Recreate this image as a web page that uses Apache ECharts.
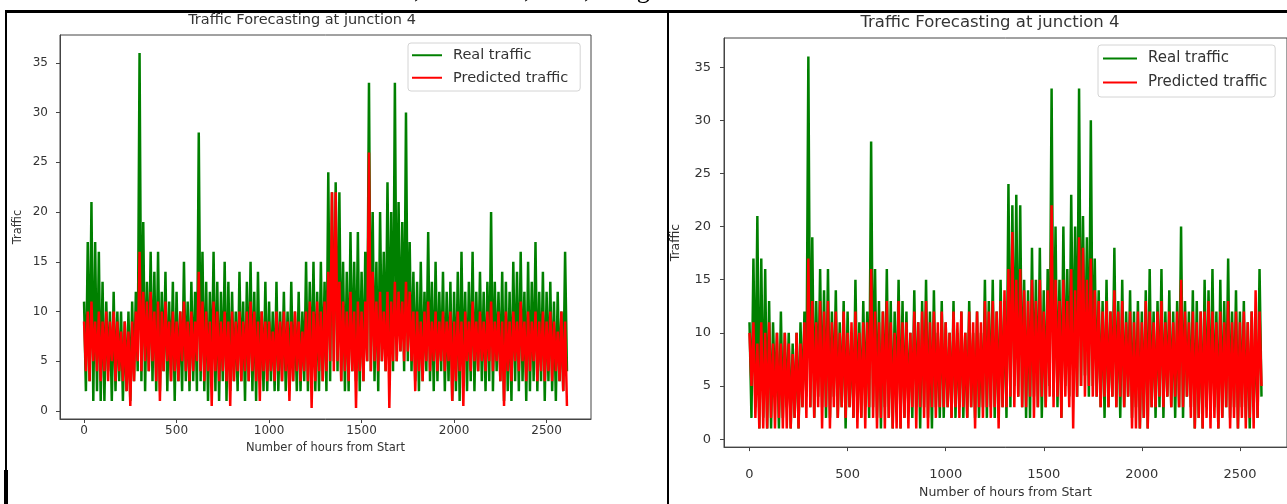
<!DOCTYPE html>
<html><head><meta charset="utf-8">
<script src="https://cdn.jsdelivr.net/npm/echarts@6/dist/echarts.min.js"></script>
<style>html,body{margin:0;padding:0;background:#fff;}#c{width:1287px;height:504px;}</style>
</head><body><div id="c"></div>
<script>
// one value every HOUR_STEP hours (alternating local peaks and troughs)
const HOUR_STEP = 10;
const realTraffic = [
  11,2,17,3,21,1,17,2,16,1,13,1,11,4,10,1,12,2,10,3,
  10,1,9,2,10,1,11,3,12,4,36,3,19,2,13,4,16,3,14,2,
  16,2,12,4,14,2,11,3,13,1,12,3,10,2,15,3,11,2,13,3,
  12,2,28,3,16,2,13,1,12,3,16,2,13,1,12,3,15,1,13,2,
  12,3,10,2,14,3,11,1,13,3,15,2,12,1,14,3,10,2,13,2,
  11,3,10,2,13,2,10,3,12,2,10,2,13,3,10,2,12,2,10,3,
  15,2,13,3,15,2,12,2,15,3,13,2,24,3,22,5,23,4,22,3,
  15,2,14,2,18,4,15,3,18,2,14,3,16,5,33,4,20,3,15,2,
  20,5,16,4,23,6,20,4,33,5,21,6,19,4,30,5,17,4,14,3,
  13,2,15,3,12,4,18,3,13,2,15,3,12,4,14,2,12,3,13,1,
  12,2,14,1,16,3,12,2,13,3,16,2,12,4,14,3,12,2,13,3,
  20,2,13,4,12,3,14,1,13,2,12,1,15,3,14,2,16,3,12,1,
  15,2,13,3,17,2,12,3,14,1,12,3,13,2,11,1,12,3,10,2,
  16,4
];
const predictedLeft = [
  9,4,10,3,11,5,9,4,10,3,9,4,10,3,9,5,10,3,9,4,
  8,3,9,2,8,0.5,9,3,10,5,16,4,12,5,11,4,12,5,10,3,
  11,1,10,4,11,5,9,3,10,4,9,3,10,5,11,4,9,3,10,4,
  9,5,14,4,11,3,10,4,9,0.5,11,4,10,3,9,4,10,3,9,0.5,
  10,3,9,4,10,3,9,4,10,3,11,4,10,3,9,1,10,4,9,3,
  9,4,8,3,10,4,9,3,10,4,9,1,9,3,10,4,9,3,8,4,
  10,3,11,0.3,10,3,11,4,10,3,11,4,14,5,22,4,22,5,13,3,
  11,4,10,3,12,4,10,0.3,11,4,10,3,11,5,26,4,14,5,11,4,
  12,5,10,4,12,0.3,11,5,13,5,12,6,11,5,13,6,12,5,10,2,
  10,4,9,3,10,5,11,4,9,5,10,4,9,5,10,4,9,5,10,1,
  9,3,10,4,9,0.5,10,5,9,4,11,5,9,4,10,5,9,4,10,5,
  11,4,9,5,10,3,9,0.5,10,4,9,3,10,5,9,4,11,5,9,3,
  10,4,9,5,10,3,9,4,10,3,9,4,10,3,9,4,8,3,10,2,
  9,0.5
];
const predictedRight = [
  10,5,11,2,9,1,11,1,10,1,11,2,9,1,10,2,9,1,10,1,
  9,1,8,2,10,1,9,3,11,2,17,3,13,2,11,3,13,1,12,3,
  13,1,11,3,12,2,10,3,12,2,10,3,11,2,12,1,10,2,11,1,
  11,3,16,2,12,1,11,2,12,1,13,2,11,1,10,1,13,1,11,2,
  11,1,10,3,12,1,11,3,12,2,13,1,11,3,12,2,11,3,12,3,
  11,3,10,2,12,3,11,2,12,3,10,2,12,3,11,1,12,3,11,2,
  13,3,12,2,13,3,12,1,13,3,14,3,16,4,19.5,3,15,4,16,3,
  14,3,13,4,15,2,13,3,15,4,12,3,14,4,22,3,15,4,13,2,
  15,4,13,3,16,1,14,4,19,5,18,4,15,5,17,4,14,4,13,3,
  12,4,13,3,12,4,14,3,12,4,13,3,11,4,12,1,11,1,12,1,
  11,2,13,1,12,3,11,3,12,4,13,3,11,4,12,3,11,4,12,3,
  15,3,12,4,11,2,12,1,11,2,12,1,12,2,13,1,12,2,11,1,
  12,2,11,3,13,1,11,2,12,1,11,2,12,1,11,2,12,1,14,2,
  12,5
];
const xTickValues = [0, 500, 1000, 1500, 2000, 2500];
const yTickValues = [0, 5, 10, 15, 20, 25, 30, 35];
const seriesNames = ['Real traffic', 'Predicted traffic'];
const chartTitle = 'Traffic Forecasting at junction 4';
const xAxisName = 'Number of hours from Start';
const yAxisName = 'Traffic';
const docFragments = ['1,', '2,', '3,', 'Fig'];

const toPairs = arr => arr.map((v, i) => [i * HOUR_STEP, v]);
const FONT = '"DejaVu Sans", sans-serif';
const GREEN = '#008000', RED = '#ff0000', AXIS = '#444';

function mkX(gi, fs, nfs, margin, gap) {
  return {
    type: 'value', gridIndex: gi, min: -130, max: 2740,
    axisLine: { show: true, onZero: false, lineStyle: { color: AXIS, width: 1 } },
    axisTick: { show: true, length: 4, customValues: xTickValues, lineStyle: { color: AXIS } },
    axisLabel: { customValues: xTickValues, fontSize: fs, color: '#333', fontFamily: FONT, margin: margin, formatter: v => String(v) },
    splitLine: { show: false },
    name: xAxisName, nameLocation: 'middle', nameGap: gap,
    nameTextStyle: { fontSize: nfs, color: '#333', fontFamily: FONT }
  };
}
function mkY(gi, fs, nfs, min, max, margin, gap) {
  return {
    type: 'value', gridIndex: gi, min: min, max: max,
    axisLine: { show: true, onZero: false, lineStyle: { color: AXIS, width: 1 } },
    axisTick: { show: true, length: 4, customValues: yTickValues, lineStyle: { color: AXIS } },
    axisLabel: { customValues: yTickValues, fontSize: fs, color: '#333', fontFamily: FONT, margin: margin, formatter: v => String(v) },
    splitLine: { show: false },
    name: yAxisName, nameLocation: 'middle', nameGap: gap,
    nameTextStyle: { fontSize: nfs, color: '#333', fontFamily: FONT }
  };
}
function mkSeries(name, data, color, xi) {
  return {
    type: 'line', name: name, data: toPairs(data), xAxisIndex: xi, yAxisIndex: xi,
    showSymbol: false, symbol: 'none', sampling: null, animation: false,
    lineStyle: { color: color, width: 2.5 }, itemStyle: { color: color }
  };
}
function mkLegend(left, top, fs, iw, gap, pad) {
  return {
    show: true, orient: 'vertical', left: left, top: top, data: seriesNames,
    icon: 'rect', itemWidth: iw, itemHeight: 2, itemGap: gap, padding: pad,
    backgroundColor: 'rgba(255,255,255,0.85)', borderColor: '#d4d4d4', borderWidth: 1, borderRadius: 3,
    textStyle: { fontSize: fs, lineHeight: fs + 2, color: '#333', fontFamily: FONT, padding: [0, 0, 0, 6] },
    selectedMode: false
  };
}

const chart = echarts.init(document.getElementById('c'), null, { renderer: 'canvas' });
const docText = docFragments.map((t, i) => ({
  type: 'text', x: [401, 511, 571, 615][i], y: -22,
  style: { text: t, font: '26px "Liberation Serif", serif', fill: '#000', textVerticalAlign: 'top' }
}));
chart.setOption({
  animation: false,
  backgroundColor: '#fff',
  grid: [
    { left: 60, top: 35, width: 531, height: 384, show: true, borderColor: AXIS, borderWidth: 1, containLabel: false },
    { left: 724, top: 38, width: 589, height: 422, show: true, borderColor: AXIS, borderWidth: 1, containLabel: false }
  ],
  xAxis: [mkX(0, 12, 11.5, 6, 22), mkX(1, 13, 12.5, 21, 38)],
  yAxis: [mkY(0, 12, 11.5, -0.8, 37.8, 12, 36), mkY(1, 13, 12.5, -0.75, 37.75, 13, 42)],
  legend: [
    mkLegend(408, 43, 14.5, 30, 6, [4, 12, 5, 4]),
    mkLegend(1098, 45, 15, 34, 7, [5, 8, 6, 5])
  ],
  series: [
    mkSeries(seriesNames[0], realTraffic, GREEN, 0),
    mkSeries(seriesNames[1], predictedLeft, RED, 0),
    mkSeries(seriesNames[0], realTraffic, GREEN, 1),
    mkSeries(seriesNames[1], predictedRight, RED, 1)
  ],
  graphic: [
    ...docText,
    { type: 'rect', shape: { x: 5, y: 10, width: 1282, height: 3 }, style: { fill: '#000' } },
    { type: 'rect', shape: { x: 5, y: 10, width: 2, height: 494 }, style: { fill: '#000' } },
    { type: 'rect', shape: { x: 4, y: 470, width: 4, height: 34 }, style: { fill: '#000' } },
    { type: 'rect', shape: { x: 667, y: 10, width: 2, height: 494 }, style: { fill: '#000' } },
    { type: 'text', x: 302, y: 20, style: { text: chartTitle, font: '14.5px "DejaVu Sans"', fill: '#333', textAlign: 'center', textVerticalAlign: 'middle' } },
    { type: 'text', x: 990, y: 23, style: { text: chartTitle, font: '16.5px "DejaVu Sans"', fill: '#333', textAlign: 'center', textVerticalAlign: 'middle' } }
  ]
});
</script>
</body></html>
